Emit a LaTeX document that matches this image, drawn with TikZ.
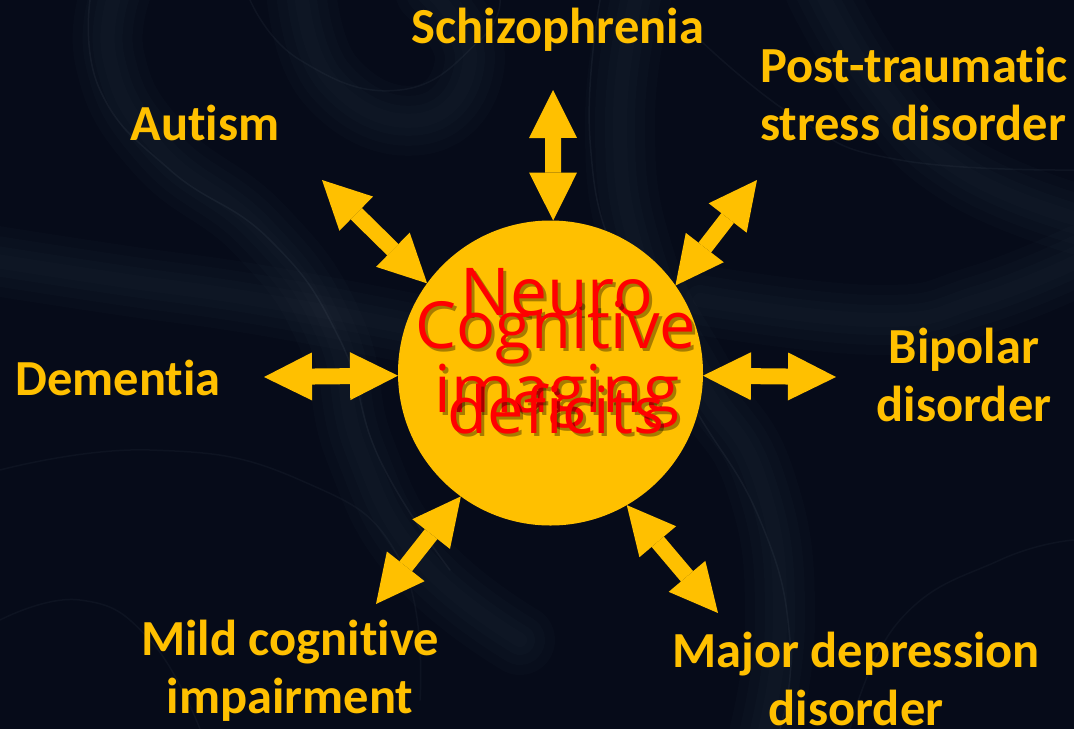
\documentclass[tikz,border=0pt]{standalone}
\usepackage{fontspec}
\setmainfont{Carlito}[Ligatures={NoCommon}]
\newfontfamily\redfont{Open Sans}
\usetikzlibrary{arrows.meta}
\definecolor{gold}{HTML}{FFC000}
\definecolor{bgc}{HTML}{060B19}
\definecolor{smoke}{HTML}{9AAAB8}
\definecolor{redtext}{HTML}{FF0000}
\begin{document}
\begin{tikzpicture}[x=1pt,y=-1pt,
  lbl/.style={text=gold, font=\bfseries\fontsize{50.5}{58}\selectfont, inner sep=0pt, outer sep=0pt},
  dbl/.style={draw=gold, line width=16pt,
    {Triangle[length=48pt,width=48pt,line width=0pt]}-{Triangle[length=48pt,width=48pt,line width=0pt]}},
  bigtxt/.style={text=redtext, align=center, anchor=base, inner sep=0pt, outer sep=0pt},
  shadowtxt/.style={text=black, text opacity=0.35, align=center, anchor=base, inner sep=0pt, outer sep=0pt},
  wisp/.style={draw=smoke, line cap=round, line join=round},
  softwisp/.style={wisp, opacity=0.018}
]
\useasboundingbox (0,0) rectangle (1074,729);
\fill[bgc] (0,0) rectangle (1074,729);
% smoke wisps in the background (soft, layered strokes)
\foreach \w in {70,50,30,14}{
  \draw[softwisp, line width=\w pt] plot[smooth, tension=0.8] coordinates {(120,-20) (110,60) (160,150) (260,230) (330,330) (360,450) (420,560) (520,640)};
  \draw[softwisp, line width=\w pt] plot[smooth, tension=0.8] coordinates {(300,-20) (330,80) (420,120) (470,60) (430,-10)};
  \draw[softwisp, line width=\w pt] plot[smooth, tension=0.8] coordinates {(640,-20) (620,120) (640,260) (700,380) (760,480) (780,620) (760,750)};
  \draw[softwisp, line width=\w pt] plot[smooth, tension=0.8] coordinates {(820,-10) (880,90) (960,170) (1080,220)};
  \draw[softwisp, line width=\w pt] plot[smooth, tension=0.8] coordinates {(-10,260) (120,280) (260,300) (420,330)};
  \draw[softwisp, line width=\w pt] plot[smooth, tension=0.8] coordinates {(700,300) (880,320) (980,300) (1080,260)};
}
\draw[wisp, opacity=0.07, line width=1.5pt] plot[smooth, tension=0.8] coordinates {(90,0) (100,90) (170,170) (270,240) (340,340) (380,460) (450,570)};
\draw[wisp, opacity=0.07, line width=1.5pt] plot[smooth, tension=0.8] coordinates {(600,0) (590,140) (620,270) (690,400) (760,520) (790,640) (780,729)};
\draw[wisp, opacity=0.06, line width=1.5pt] plot[smooth, tension=0.8] coordinates {(250,0) (300,60) (400,90) (480,40) (500,0)};
\draw[wisp, opacity=0.06, line width=1.5pt] plot[smooth, tension=0.8] coordinates {(700,40) (800,120) (900,160) (1074,170)};
\draw[wisp, opacity=0.05, line width=1.5pt] plot[smooth, tension=0.8] coordinates {(0,470) (150,450) (300,480) (400,560) (420,700)};
\draw[wisp, opacity=0.05, line width=1.5pt] plot[smooth, tension=0.8] coordinates {(850,729) (900,620) (1000,560) (1074,540)};
\draw[wisp, opacity=0.05, line width=1.5pt] plot[smooth, tension=0.8] coordinates {(0,620) (80,600) (150,640) (200,729)};

% central circle
\node[circle, fill=gold, minimum size=305pt, inner sep=0pt, outer sep=0pt] (circ) at (550.5,373) {};

% labels (anchor=base of a multi-line node is the last line's baseline)
\node[lbl, anchor=base] (schizo) at (558,43) {Schizophrenia};
\node[lbl, anchor=base west, align=left] (ptsd) at (760,140) {Post-traumatic\\stress disorder};
\node[lbl, anchor=base] (autism) at (205,140) {Autism};
\node[lbl, anchor=base, align=center] (bipolar) at (964,421) {Bipolar\\disorder};
\node[lbl, anchor=base] (dementia) at (118,395) {Dementia};
\node[lbl, anchor=base, align=center] (mci) at (290,713) {Mild cognitive\\impairment};
\node[lbl, anchor=base, align=center] (mdd) at (856,725) {Major depression\\disorder};

% free ends of the double arrows
\coordinate (eTop) at (553,90);
\coordinate (eAut) at (322,180);
\coordinate (ePtsd) at (757,180);
\coordinate (eLeft) at (264,377);
\coordinate (eRight) at (836,377);
\coordinate (eMci) at (376,604);
\coordinate (eMdd) at (718,613);

\draw[dbl] (eTop) -- (circ.89);
\draw[dbl] (eAut) -- (circ.144);
\draw[dbl] (ePtsd) -- (circ.35);
\draw[dbl] (eLeft) -- (circ.181.5);
\draw[dbl] (eRight) -- (circ.-1.5);
\draw[dbl] (eMci) -- (circ.234);
\draw[dbl] (eMdd) -- (circ.300.5);

% central texts
\node[shadowtxt, font=\redfont\fontsize{66}{97}\selectfont] (nishadow) at (560,415) {Neuro\\imaging};
\node[bigtxt, font=\redfont\fontsize{66}{97}\selectfont] (ni) at (557,412) {Neuro\\imaging};
\node[shadowtxt, font=\redfont\fontsize{65}{85}\selectfont] (cdshadow) at (559,436) {Cognitive\\deficits};
\node[bigtxt, font=\redfont\fontsize{65}{85}\selectfont] (cd) at (556,433) {Cognitive\\deficits};
\end{tikzpicture}
\end{document}
